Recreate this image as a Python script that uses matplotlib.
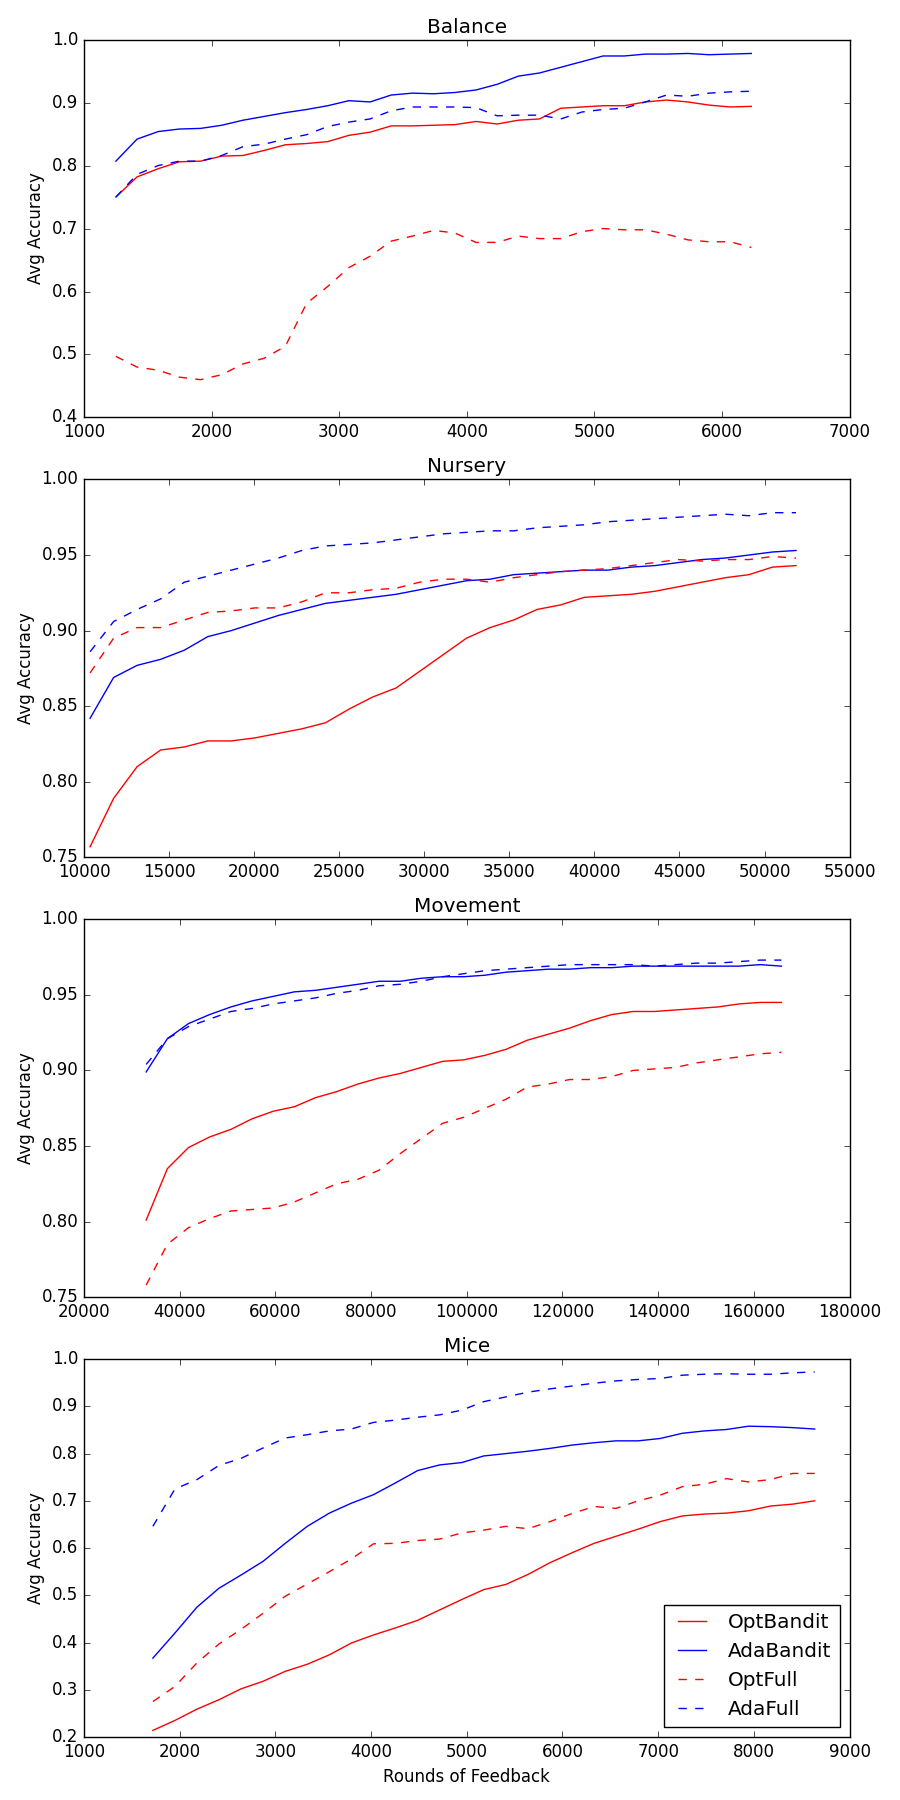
#!/usr/bin/env python3

import matplotlib
matplotlib.use("Agg")
import matplotlib.pyplot as plt

# series labels, in legend order
labels = ["OptBandit", "AdaBandit", "OptFull", "AdaFull"]

# Balance
balance_x = [1250, 1416, 1582, 1748, 1914, 2080, 2246, 2412, 2578, 2744, 2910,
             3076, 3242, 3408, 3574, 3740, 3906, 4072, 4238, 4404, 4570, 4736,
             4902, 5068, 5234, 5400, 5566, 5732, 5898, 6064, 6230]
balance_opt_bandit = [0.750, 0.782, 0.795, 0.806, 0.807, 0.815, 0.816, 0.824, 0.833, 0.835, 0.838,
                      0.848, 0.853, 0.863, 0.863, 0.864, 0.865, 0.870, 0.866, 0.872, 0.874, 0.891,
                      0.893, 0.895, 0.895, 0.901, 0.904, 0.901, 0.896, 0.893, 0.894]
balance_ada_bandit = [0.807, 0.842, 0.854, 0.858, 0.859, 0.864, 0.872, 0.878, 0.884, 0.889, 0.895,
                      0.903, 0.901, 0.912, 0.915, 0.914, 0.916, 0.920, 0.929, 0.942, 0.947, 0.956,
                      0.965, 0.974, 0.974, 0.977, 0.977, 0.978, 0.976, 0.977, 0.978]
balance_opt_full = [0.497, 0.480, 0.475, 0.464, 0.460, 0.468, 0.485, 0.494, 0.513, 0.581, 0.608,
                    0.638, 0.656, 0.680, 0.688, 0.697, 0.693, 0.678, 0.678, 0.688, 0.684, 0.684,
                    0.695, 0.700, 0.698, 0.698, 0.691, 0.682, 0.679, 0.679, 0.670]
balance_ada_full = [0.750, 0.786, 0.800, 0.807, 0.807, 0.816, 0.830, 0.834, 0.842, 0.849, 0.862,
                    0.869, 0.874, 0.887, 0.893, 0.893, 0.893, 0.892, 0.879, 0.880, 0.880, 0.874,
                    0.885, 0.889, 0.891, 0.901, 0.912, 0.910, 0.915, 0.917, 0.918]

# Nursery
nursery_x = [10360, 11743, 13126, 14509, 15892, 17275, 18658, 20041, 21424, 22807, 24190,
             25573, 26956, 28339, 29722, 31105, 32488, 33871, 35254, 36637, 38020, 39403,
             40786, 42169, 43552, 44935, 46318, 47701, 49084, 50467, 51850]
nursery_opt_bandit = [0.757, 0.789, 0.810, 0.821, 0.823, 0.827, 0.827, 0.829, 0.832, 0.835, 0.839,
                      0.848, 0.856, 0.862, 0.873, 0.884, 0.895, 0.902, 0.907, 0.914, 0.917, 0.922,
                      0.923, 0.924, 0.926, 0.929, 0.932, 0.935, 0.937, 0.942, 0.943]
nursery_ada_bandit = [0.842, 0.869, 0.877, 0.881, 0.887, 0.896, 0.900, 0.905, 0.910, 0.914, 0.918,
                      0.920, 0.922, 0.924, 0.927, 0.930, 0.933, 0.934, 0.937, 0.938, 0.939, 0.940,
                      0.940, 0.942, 0.943, 0.945, 0.947, 0.948, 0.950, 0.952, 0.953]
nursery_opt_full = [0.872, 0.895, 0.902, 0.902, 0.907, 0.912, 0.913, 0.915, 0.915, 0.919, 0.925,
                    0.925, 0.927, 0.928, 0.932, 0.934, 0.934, 0.932, 0.935, 0.937, 0.939, 0.940,
                    0.941, 0.943, 0.945, 0.947, 0.946, 0.947, 0.947, 0.949, 0.948]
nursery_ada_full = [0.886, 0.906, 0.914, 0.921, 0.932, 0.936, 0.940, 0.944, 0.948, 0.953, 0.956,
                    0.957, 0.958, 0.960, 0.962, 0.964, 0.965, 0.966, 0.966, 0.968, 0.969, 0.970,
                    0.972, 0.973, 0.974, 0.975, 0.976, 0.977, 0.976, 0.978, 0.978]

# Movement
movement_x = [33000, 37425, 41850, 46275, 50700, 55125, 59550, 63975, 68400, 72825, 77250,
              81675, 86100, 90525, 94950, 99375, 103800, 108225, 112650, 117075, 121500, 125925,
              130350, 134775, 139200, 143625, 148050, 152475, 156900, 161325, 165750]
movement_opt_bandit = [0.801, 0.835, 0.849, 0.856, 0.861, 0.868, 0.873, 0.876, 0.882, 0.886, 0.891,
                       0.895, 0.898, 0.902, 0.906, 0.907, 0.910, 0.914, 0.920, 0.924, 0.928, 0.933,
                       0.937, 0.939, 0.939, 0.940, 0.941, 0.942, 0.944, 0.945, 0.945]
movement_ada_bandit = [0.899, 0.921, 0.931, 0.937, 0.942, 0.946, 0.949, 0.952, 0.953, 0.955, 0.957,
                       0.959, 0.959, 0.961, 0.962, 0.962, 0.963, 0.965, 0.966, 0.967, 0.967, 0.968,
                       0.968, 0.969, 0.969, 0.969, 0.969, 0.969, 0.969, 0.970, 0.969]
movement_opt_full = [0.758, 0.785, 0.796, 0.802, 0.807, 0.808, 0.809, 0.813, 0.819, 0.825, 0.828,
                     0.834, 0.845, 0.855, 0.865, 0.869, 0.875, 0.881, 0.889, 0.891, 0.894, 0.894,
                     0.896, 0.900, 0.901, 0.902, 0.905, 0.907, 0.909, 0.911, 0.912]
movement_ada_full = [0.904, 0.921, 0.929, 0.934, 0.939, 0.941, 0.944, 0.946, 0.948, 0.951, 0.953,
                     0.956, 0.957, 0.959, 0.962, 0.964, 0.966, 0.967, 0.968, 0.969, 0.970, 0.970,
                     0.970, 0.970, 0.969, 0.970, 0.971, 0.971, 0.972, 0.973, 0.973]

# Mice
mice_x = [1720, 1950, 2181, 2411, 2642, 2872, 3103, 3333, 3564, 3794, 4025,
          4255, 4486, 4716, 4947, 5177, 5408, 5638, 5869, 6099, 6330, 6560,
          6791, 7021, 7252, 7482, 7713, 7943, 8174, 8404, 8635]
mice_opt_bandit = [0.214, 0.235, 0.259, 0.279, 0.302, 0.318, 0.339, 0.354, 0.374, 0.399, 0.416,
                   0.431, 0.447, 0.469, 0.491, 0.512, 0.523, 0.544, 0.569, 0.590, 0.610, 0.625,
                   0.640, 0.656, 0.668, 0.672, 0.674, 0.679, 0.689, 0.693, 0.700]
mice_ada_bandit = [0.367, 0.420, 0.475, 0.515, 0.543, 0.572, 0.610, 0.646, 0.674, 0.695, 0.713,
                   0.738, 0.764, 0.776, 0.781, 0.795, 0.800, 0.805, 0.811, 0.818, 0.823, 0.827,
                   0.827, 0.832, 0.843, 0.848, 0.851, 0.858, 0.857, 0.855, 0.852]
mice_opt_full = [0.275, 0.307, 0.357, 0.397, 0.428, 0.462, 0.498, 0.524, 0.550, 0.577, 0.609,
                 0.610, 0.616, 0.619, 0.632, 0.638, 0.646, 0.641, 0.656, 0.673, 0.688, 0.684,
                 0.700, 0.712, 0.730, 0.735, 0.747, 0.740, 0.745, 0.758, 0.758]
mice_ada_full = [0.646, 0.725, 0.745, 0.775, 0.790, 0.812, 0.833, 0.840, 0.848, 0.852, 0.866,
                 0.871, 0.877, 0.882, 0.892, 0.910, 0.920, 0.930, 0.937, 0.943, 0.949, 0.954,
                 0.957, 0.959, 0.966, 0.968, 0.969, 0.968, 0.968, 0.971, 0.973]


def draw_panel(ax, title, x, series, xlim, ylim):
    # red = Opt, blue = Ada, solid = bandit feedback, dashed = full feedback
    styles = [("r", "-"), ("b", "-"), ("r", "--"), ("b", "--")]
    for (color, ls), y, label in zip(styles, series, labels):
        ax.plot(x, y, color=color, linestyle=ls, label=label)
    ax.set_xlim(*xlim)
    ax.set_ylim(*ylim)
    ax.set_title(title)
    ax.set_ylabel("Avg Accuracy")


def main():
    plt.style.use("classic")

    fig, axes = plt.subplots(4, 1, figsize=(9, 18), dpi=100)
    fig.patch.set_facecolor("white")
    fig.subplots_adjust(left=0.0933, right=0.944, top=0.978, bottom=0.035, hspace=0.164)

    draw_panel(axes[0], "Balance", balance_x,
               [balance_opt_bandit, balance_ada_bandit, balance_opt_full, balance_ada_full],
               (1000, 7000), (0.4, 1.0))
    draw_panel(axes[1], "Nursery", nursery_x,
               [nursery_opt_bandit, nursery_ada_bandit, nursery_opt_full, nursery_ada_full],
               (10000, 55000), (0.75, 1.0))
    draw_panel(axes[2], "Movement", movement_x,
               [movement_opt_bandit, movement_ada_bandit, movement_opt_full, movement_ada_full],
               (20000, 180000), (0.75, 1.0))
    draw_panel(axes[3], "Mice", mice_x,
               [mice_opt_bandit, mice_ada_bandit, mice_opt_full, mice_ada_full],
               (1000, 9000), (0.2, 1.0))

    axes[3].set_xlabel("Rounds of Feedback")
    # classic legend defaults already match the reference box
    axes[3].legend(loc="lower right")

    fig.savefig("out.png", dpi=100, facecolor="white")


if __name__ == "__main__":
    main()
